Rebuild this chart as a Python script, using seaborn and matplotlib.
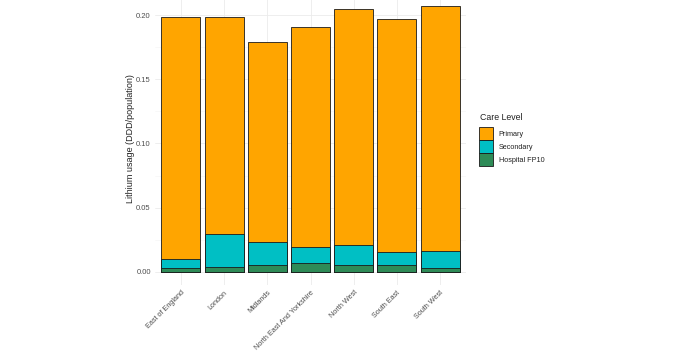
import matplotlib
matplotlib.use("Agg")
import matplotlib.pyplot as plt
import seaborn as sns
import numpy as np
import pandas as pd
from matplotlib.patches import Patch

regions = ["East of England", "London", "Midlands", "North East And Yorkshire",
           "North West", "South East", "South West"]
hospital = [0.0025, 0.004, 0.005, 0.007, 0.0055, 0.005, 0.003]
secondary = [0.0075, 0.0255, 0.018, 0.0125, 0.015, 0.0105, 0.013]
primary = [0.189, 0.1695, 0.156, 0.1715, 0.1845, 0.1815, 0.191]

levels = ["Primary", "Secondary", "Hospital FP10"]
colors = {"Primary": "#FFA500", "Secondary": "#00BFC4", "Hospital FP10": "#2E8B57"}

df = pd.DataFrame({"region": regions, "hospital": hospital,
                   "secondary": secondary, "primary": primary})
# stacked bars: draw cumulative totals, tallest first
df["top_hosp"] = df["hospital"]
df["top_sec"] = df["hospital"] + df["secondary"]
df["top_prim"] = df["top_sec"] + df["primary"]

sns.set_style("white")
plt.rcParams["font.family"] = ["Liberation Sans", "DejaVu Sans"]

fig = plt.figure(figsize=(6.75, 3.52), dpi=100)
ax = fig.add_axes([155 / 675, 1 - 285 / 352, (466 - 155) / 675, (285 + 7) / 352])

for col, lev in [("top_prim", "Primary"), ("top_sec", "Secondary"), ("top_hosp", "Hospital FP10")]:
    sns.barplot(data=df, x="region", y=col, color=colors[lev], width=0.9,
                edgecolor="#1a1a1a", linewidth=0.6, saturation=1, ax=ax)

ax.set_ylim(-0.0104, 0.2174)
ax.set_xlim(-0.6, 6.6)
ax.set_yticks([0, 0.05, 0.10, 0.15, 0.20])
ax.set_yticklabels(["0.00", "0.05", "0.10", "0.15", "0.20"], fontsize=5.5, color="#4d4d4d")
ax.set_yticks([0.025, 0.075, 0.125, 0.175], minor=True)
ax.set_xticks(range(len(regions)))
ax.set_xticklabels(regions, rotation=45, ha="right", rotation_mode="anchor",
                   fontsize=5.2, color="#4d4d4d")
ax.tick_params(axis="both", length=0, pad=3)
ax.set_xlabel("")
ax.set_ylabel("Lithium usage (DDD/population)", fontsize=6.5, color="#222222", labelpad=1)
ax.grid(True, which="major", color="#ebebeb", linewidth=0.6)
ax.grid(True, which="minor", axis="y", color="#f3f3f3", linewidth=0.4)
ax.set_axisbelow(True)
for s in ax.spines.values():
    s.set_visible(False)

# legend title placed by hand so the gap matches ggplot
fig.text(480 / 675, 1 - 117 / 352, "Care Level", fontsize=6.3, color="#222222",
         ha="left", va="center")
handles = [Patch(facecolor=colors[l], edgecolor="#1a1a1a", linewidth=0.6, label=l) for l in levels]
leg = fig.legend(handles=handles, loc="upper left",
                 bbox_to_anchor=(479 / 675, 1 - 127 / 352), frameon=False,
                 fontsize=5.2, handlelength=1.95, handleheight=2.4,
                 handletextpad=0.8, labelspacing=0.0,
                 borderpad=0, borderaxespad=0)
for t in leg.get_texts():
    t.set_color("#222222")

fig.savefig("out.png", dpi=100)
